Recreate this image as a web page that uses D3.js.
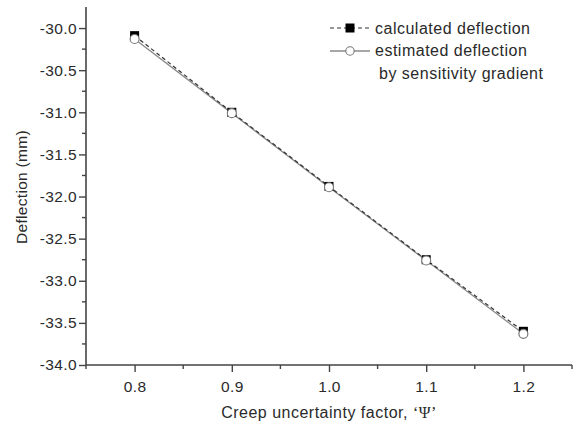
<!DOCTYPE html>
<html>
<head>
<meta charset="utf-8">
<script src="https://cdn.jsdelivr.net/npm/d3@7"></script>
<style>
  html, body { margin: 0; padding: 0; background: #fff; }
  svg { display: block; font-family: "Liberation Sans", Arial, sans-serif; }
</style>
</head>
<body>
<svg id="chart" width="578" height="426"></svg>
<script>
// Creep uncertainty factor vs. mid-span deflection
const psi = [0.8, 0.9, 1.0, 1.1, 1.2];
const calculated = [-30.09, -31.0, -31.88, -32.75, -33.60];
const estimated = [-30.13, -31.01, -31.89, -32.76, -33.63];
const xTicks = [0.8, 0.9, 1.0, 1.1, 1.2];
const xMinor = [0.75, 0.85, 0.95, 1.05, 1.15, 1.25];
const yTicks = [-34.0, -33.5, -33.0, -32.5, -32.0, -31.5, -31.0, -30.5, -30.0];
const yMinor = [-33.75, -33.25, -32.75, -32.25, -31.75, -31.25, -30.75, -30.25];
const legendLabels = ["calculated deflection", "estimated deflection", "by sensitivity gradient"];

const svg = d3.select("#chart");
const axisColor = "#444";
const textColor = "#2a2a2a";
const fmt = d => d3.format(".1f")(d).replace("\u2212", "-");

const x = d3.scaleLinear().domain([0.75, 1.25]).range([86, 572]);
const y = d3.scaleLinear().domain([-34, -29.75]).range([365, 7]);

// Y axis
const yAxis = d3.axisLeft(y).tickValues(yTicks).tickFormat(fmt).tickSize(7).tickPadding(2);
const gy = svg.append("g").attr("transform", `translate(${x.range()[0]},0)`).call(yAxis);
gy.append("g").selectAll("line").data(yMinor).join("line")
  .attr("x1", -4).attr("x2", 0).attr("y1", d => y(d)).attr("y2", d => y(d));

// X axis
const xAxis = d3.axisBottom(x).tickValues(xTicks).tickFormat(fmt).tickSize(7).tickPadding(9);
const gx = svg.append("g").attr("transform", `translate(0,${y.range()[0]})`).call(xAxis);
gx.append("g").selectAll("line").data(xMinor).join("line")
  .attr("x1", d => x(d)).attr("x2", d => x(d)).attr("y1", 0).attr("y2", 4);

[gx, gy].forEach(g => {
  g.select(".domain").attr("stroke", axisColor).attr("stroke-width", 1.6);
  g.selectAll("line").attr("stroke", axisColor).attr("stroke-width", 1.4);
  g.selectAll("text").attr("fill", textColor).attr("font-size", 15.5)
    .attr("letter-spacing", 0.4)
    .attr("font-family", "'Liberation Sans', Arial, sans-serif");
});
gy.select(".domain").attr("d", `M0,${y.range()[1]}V${y.range()[0]}`);
gx.select(".domain").attr("d", `M${x.range()[0]},0H${x.range()[1]}`);

// Axis titles
svg.append("text")
  .attr("x", 329).attr("y", 418).attr("text-anchor", "middle")
  .attr("font-size", 16).attr("letter-spacing", 0.5).attr("fill", textColor)
  .text("Creep uncertainty factor, ")
  .append("tspan").attr("font-family", "'Liberation Serif', serif").attr("font-size", 16).text("\u2018\u03A8\u2019");

svg.append("text")
  .attr("transform", "translate(27,187) rotate(-90)")
  .attr("text-anchor", "middle").attr("font-size", 15.5).attr("letter-spacing", 0.3).attr("fill", textColor)
  .text("Deflection (mm)");

// Series lines
const line = d3.line().x((d, i) => x(psi[i])).y(d => y(d));

svg.append("path").datum(estimated)
  .attr("d", line).attr("fill", "none").attr("stroke", "#8a8a8a").attr("stroke-width", 1.3);
svg.append("path").datum(calculated)
  .attr("d", line).attr("fill", "none").attr("stroke", "#333").attr("stroke-width", 1.2)
  .attr("stroke-dasharray", "4,3");

// Markers
svg.append("g").selectAll("rect").data(calculated).join("rect")
  .attr("x", (d, i) => x(psi[i]) - 4.5).attr("y", d => y(d) - 4.5)
  .attr("width", 9).attr("height", 9).attr("fill", "#000");
svg.append("g").selectAll("circle").data(estimated).join("circle")
  .attr("cx", (d, i) => x(psi[i])).attr("cy", d => y(d)).attr("r", 4.5)
  .attr("fill", "#fff").attr("stroke", "#777").attr("stroke-width", 1.1);

// Legend
const lg = svg.append("g");
lg.append("line").attr("x1", 330).attr("x2", 370).attr("y1", 28).attr("y2", 28)
  .attr("stroke", "#333").attr("stroke-width", 1.2).attr("stroke-dasharray", "4,3");
lg.append("rect").attr("x", 345.5).attr("y", 23.5).attr("width", 9).attr("height", 9).attr("fill", "#000");
lg.append("line").attr("x1", 330).attr("x2", 370).attr("y1", 51).attr("y2", 51)
  .attr("stroke", "#8a8a8a").attr("stroke-width", 1.3);
lg.append("circle").attr("cx", 350).attr("cy", 51).attr("r", 4.2)
  .attr("fill", "#fff").attr("stroke", "#777").attr("stroke-width", 1.1);
lg.selectAll("text").data(legendLabels).join("text")
  .attr("x", (d, i) => i === 2 ? 379 : 375)
  .attr("y", (d, i) => 33.5 + i * 22.5)
  .attr("font-size", 16).attr("letter-spacing", 0.5).attr("fill", textColor)
  .text(d => d);
</script>
</body>
</html>
